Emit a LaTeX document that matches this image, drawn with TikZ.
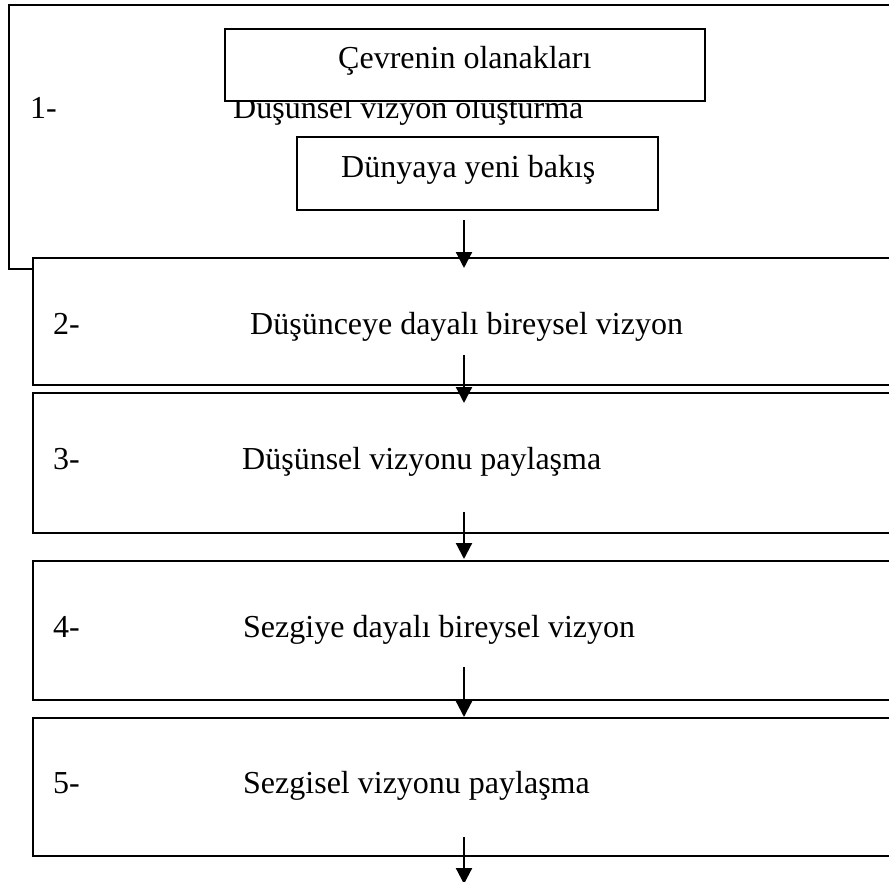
\documentclass[tikz,border=0pt]{standalone}
\usepackage{fontspec}
\setmainfont{Liberation Serif}
\usetikzlibrary{arrows.meta}
\begin{document}
\begin{tikzpicture}[x=1pt,y=-1pt,
  box/.style={draw, line width=2pt, fill=white, anchor=north west, inner sep=0pt},
  txt/.style={anchor=base west, inner sep=0pt, font=\fontsize{32}{38}\selectfont},
  flow/.style={line width=2.2pt, -{Triangle[width=16pt,length=16pt]}}]
\useasboundingbox (0,0) rectangle (889,881);
\clip (0,0) rectangle (889,881);
% stage 1
\node[box, minimum width=920pt, minimum height=264pt] (s1) at (8,4) {};
\node[txt] (n1) at (30,118) {1-};
\node[txt] (t1) at (233,118) {Düşünsel vizyon oluşturma};
\node[box, minimum width=480pt, minimum height=72pt] (cevre) at (224,28) {};
\node[txt] (tcevre) at (338,68) {Çevrenin olanakları};
\node[box, minimum width=361pt, minimum height=73pt] (dunya) at (296,136) {};
\node[txt] (tdunya) at (341,177) {Dünyaya yeni bakış};
% stages 2-5
\node[box, minimum width=900pt, minimum height=127pt] (s2) at (32,257) {};
\node[box, minimum width=900pt, minimum height=140pt] (s3) at (32,392) {};
\node[box, minimum width=900pt, minimum height=139pt] (s4) at (32,560) {};
\node[box, minimum width=900pt, minimum height=138pt] (s5) at (32,717) {};
\node[txt] (n2) at (53,334) {2-};
\node[txt] (t2) at (250,334) {Düşünceye dayalı bireysel vizyon};
\node[txt] (n3) at (53,469) {3-};
\node[txt] (t3) at (242,469) {Düşünsel vizyonu paylaşma};
\node[txt] (n4) at (53,637) {4-};
\node[txt] (t4) at (243,637) {Sezgiye dayalı bireysel vizyon};
\node[txt] (n5) at (53,793) {5-};
\node[txt] (t5) at (243,793) {Sezgisel vizyonu paylaşma};
% arrows
\coordinate (a1) at (464,220); \coordinate (b1) at (464,268);
\coordinate (a2) at (464,355); \coordinate (b2) at (464,403);
\coordinate (a3) at (464,512); \coordinate (b3) at (464,559);
\coordinate (a4) at (464,667); \coordinate (b4) at (464,717);
\coordinate (a5) at (464,837); \coordinate (b5) at (464,884);
\draw[flow] (a1) -- (b1);
\draw[flow] (a2) -- (b2);
\draw[flow] (a3) -- (b3);
\draw[flow] (a4) -- (b4);
\draw[flow] (a5) -- (b5);
\end{tikzpicture}
\end{document}
